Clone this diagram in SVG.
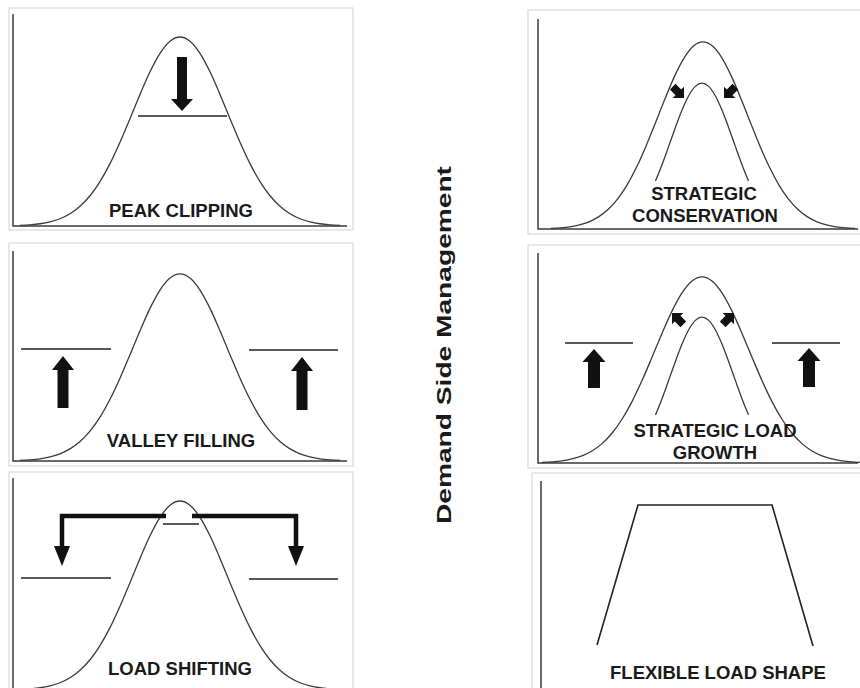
<svg xmlns="http://www.w3.org/2000/svg" xmlns:xlink="http://www.w3.org/1999/xlink" width="860" height="688" viewBox="0 0 860 688">
<style>
.frame{fill:#fff;stroke:#d9d9d9;stroke-width:1.2}
.axis{fill:none;stroke:#3a3a3a;stroke-width:1.5}
.curve{fill:none;stroke:#3a3a3a;stroke-width:1.3}
.lvl{fill:none;stroke:#222;stroke-width:1.6}
.arr{fill:#111;stroke:none}
.bar{fill:none;stroke:#111;stroke-width:4.5;stroke-linejoin:miter}
.lbl{font-family:"Liberation Sans",Arial,sans-serif;font-weight:bold;font-size:18.5px;fill:#1a1a1a;text-anchor:middle}
.title{font-family:"Liberation Sans",Arial,sans-serif;font-weight:bold;font-size:21px;fill:#1a1a1a;text-anchor:middle}
</style>
<defs>
<path id="halfR" vector-effect="non-scaling-stroke" d="M0,-189 C3.33,-189 6.67,-187.5 10,-184.77 C13.33,-182.04 16.67,-177.74 20,-172.64 C23.33,-167.54 26.67,-161.01 30,-154.17 C33.33,-147.33 36.67,-139.39 40,-131.58 C43.33,-123.77 46.67,-115.31 50,-107.32 C53.33,-99.34 56.67,-91.17 60,-83.67 C63.33,-76.17 66.67,-68.89 70,-62.34 C73.33,-55.8 76.67,-49.75 80,-44.4 C83.33,-39.05 86.67,-34.34 90,-30.22 C93.33,-26.1 96.67,-22.66 100,-19.66 C103.33,-16.66 106.67,-14.29 110,-12.22 C113.33,-10.15 116.67,-8.61 120,-7.26 C123.33,-5.91 126.67,-4.96 130,-4.12 C133.33,-3.28 136.67,-2.73 140,-2.24 C143.33,-1.75 146.67,-1.44 150,-1.16 C153.33,-0.88 156.67,-0.72 160,-0.57"/>
<path id="innerR" vector-effect="non-scaling-stroke" d="M0,-189 C3.33,-189 6.67,-187.5 10,-184.77 C13.33,-182.04 16.67,-177.74 20,-172.64 C23.33,-167.54 26.67,-161.01 30,-154.17 C33.33,-147.33 36.67,-139.39 40,-131.58 C43.33,-123.77 46.67,-115.31 50,-107.32 C53.33,-99.34 56.67,-91.17 60,-83.67 C63.33,-76.17 66.67,-68.89 70,-62.34"/>
<g id="bell" class="curve"><use xlink:href="#halfR"/><use xlink:href="#halfR" transform="scale(-1,1)"/></g>
<g id="inner" class="curve"><use xlink:href="#innerR"/><use xlink:href="#innerR" transform="scale(-1,1)"/></g>
<path id="diag" class="arr" d="M0,0 L-8,-8 L-8,-4 L-16,-4 L-16,4 L-8,4 L-8,8 Z"/>
</defs>
<rect width="860" height="688" fill="#fff"/>

<g id="peak-clipping">
<rect class="frame" x="9" y="8" width="344" height="222"/>
<polyline class="axis" points="13,14 13,226 347,226"/>
<use xlink:href="#bell" transform="translate(180,226)"/>
<line class="lvl" x1="138" y1="116" x2="227" y2="116"/>
<polygon class="arr" points="177,57 187,57 187,99 193,99 182,111 171,99 177,99"/>
<text class="lbl" x="181" y="217">PEAK CLIPPING</text>
</g>

<g id="strategic-conservation">
<rect class="frame" x="528" y="10" width="340" height="224"/>
<polyline class="axis" points="538,19 538,229 858,229"/>
<use xlink:href="#bell" transform="translate(703,229) scale(0.95,0.99)"/>
<use xlink:href="#inner" transform="translate(702,229) scale(0.665,0.772)"/>
<use xlink:href="#diag" transform="translate(684,98) rotate(45)"/>
<use xlink:href="#diag" transform="translate(724,98) rotate(135)"/>
<text class="lbl" x="704" y="200">STRATEGIC</text>
<text class="lbl" x="705" y="222">CONSERVATION</text>
</g>

<g id="valley-filling">
<rect class="frame" x="9" y="243" width="344" height="223"/>
<polyline class="axis" points="13,251 13,461 347,461"/>
<use xlink:href="#bell" transform="translate(180,461) scale(1,0.99)"/>
<line class="lvl" x1="21" y1="349" x2="111" y2="349"/>
<line class="lvl" x1="249" y1="350" x2="338" y2="350"/>
<polygon class="arr" points="63,356 74,370 68.5,370 68.5,408 57.5,408 57.5,370 52,370"/>
<polygon class="arr" points="302,357 313,371 307.5,371 307.5,410 296.5,410 296.5,371 291,371"/>
<text class="lbl" x="181" y="447">VALLEY FILLING</text>
</g>

<g id="strategic-load-growth">
<rect class="frame" x="528" y="245" width="340" height="223"/>
<polyline class="axis" points="538,253 538,463 858,463"/>
<use xlink:href="#bell" transform="translate(702,463) scale(1,0.985)"/>
<use xlink:href="#inner" transform="translate(702,463) scale(0.665,0.772)"/>
<line class="lvl" x1="565" y1="343" x2="633" y2="343"/>
<line class="lvl" x1="772" y1="343" x2="840" y2="343"/>
<polygon class="arr" points="594,349 605.5,362 600,362 600,388 588,388 588,362 582.5,362"/>
<polygon class="arr" points="809,348 820.5,361 815,361 815,387 803,387 803,361 797.5,361"/>
<use xlink:href="#diag" transform="translate(672,313) rotate(-135)"/>
<use xlink:href="#diag" transform="translate(734,313) rotate(-45)"/>
<text class="lbl" x="715" y="437">STRATEGIC LOAD</text>
<text class="lbl" x="715" y="459">GROWTH</text>
</g>

<g id="load-shifting">
<rect class="frame" x="9" y="472" width="344" height="226"/>
<polyline class="axis" points="13,478 13,700"/>
<use xlink:href="#bell" transform="translate(180,690)"/>
<line class="lvl" x1="163" y1="524" x2="199" y2="524"/>
<line class="lvl" x1="21" y1="578" x2="111" y2="578"/>
<line class="lvl" x1="249" y1="579" x2="338" y2="579"/>
<polyline class="bar" points="166,516 62,516 62,548"/>
<polyline class="bar" points="192,516 296,516 296,548"/>
<polygon class="arr" points="54,546 70,546 62,566"/>
<polygon class="arr" points="288,546 304,546 296,566"/>
<text class="lbl" x="180" y="675">LOAD SHIFTING</text>
</g>

<g id="flexible-load-shape">
<rect class="frame" x="532" y="473" width="340" height="226"/>
<polyline class="axis" points="541,481 541,700"/>
<polyline class="lvl" points="597,645 638,505 772,505 813,646"/>
<text class="lbl" x="718" y="679">FLEXIBLE LOAD SHAPE</text>
</g>

<g id="title">
<text class="title" transform="translate(451,345) rotate(-90)" textLength="358" lengthAdjust="spacingAndGlyphs">Demand Side Management</text>
</g>
</svg>
